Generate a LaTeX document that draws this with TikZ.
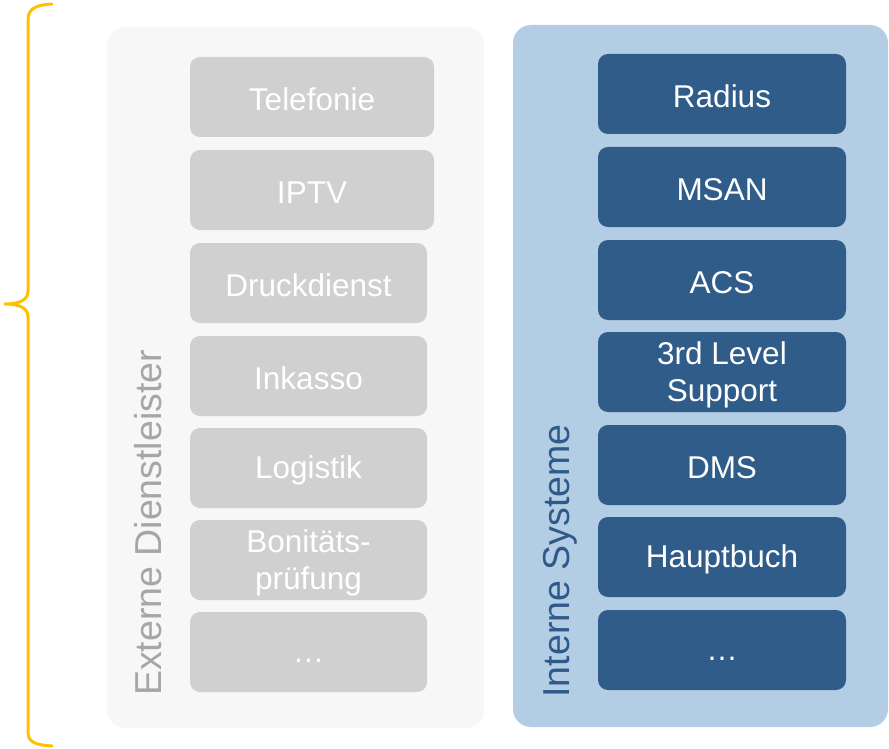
\documentclass[tikz,border=0pt]{standalone}
\usepackage{fontspec}
\setmainfont{Liberation Sans}
\definecolor{extbg}{HTML}{F7F7F7}
\definecolor{extfill}{HTML}{D0D0D0}
\definecolor{extlabel}{HTML}{A6A6A6}
\definecolor{intbg}{HTML}{B3CDE4}
\definecolor{intfill}{HTML}{305C89}
\definecolor{intlabel}{HTML}{2E5A88}
\definecolor{bracecol}{HTML}{FFC000}
\tikzset{
  boxshape/.style={rounded corners=10pt, minimum height=80pt, inner sep=0pt},
  boxlabel/.style={text=white, align=center, font=\fontsize{31.5}{37}\selectfont, yshift=-2.5pt},
  extbox/.style={boxshape, fill=extfill, minimum width=237pt},
  intbox/.style={boxshape, fill=intfill, minimum width=248pt},
  sidelabel/.style={rotate=90, anchor=base, font=\fontsize{37.5}{42}\selectfont}
}
\begin{document}
\begin{tikzpicture}[x=1pt,y=-1pt]
	\useasboundingbox (0,0) rectangle (889,749);
	\fill[extbg, rounded corners=18pt] (107,27) rectangle (484,728);
	\fill[intbg, rounded corners=18pt] (513,25) rectangle (888,727);
	% brace
	\draw[bracecol, line width=3pt, line cap=round] (52,4) .. controls (35,5) and (28,9) .. (28,20)
		-- (28,291) .. controls (28,300) and (20,304) .. (4,304)
		.. controls (20,304) and (28,308) .. (28,317)
		-- (28,732) .. controls (28,742) and (35,745) .. (52,746);
	% externe dienstleister
	\node[extbox, minimum width=244pt, label={[boxlabel]center:Telefonie}] (tel) at (312,97) {};
	\node[extbox, minimum width=244pt, label={[boxlabel]center:IPTV}] (iptv) at (312,190) {};
	\node[extbox, label={[boxlabel]center:Druckdienst}] (druck) at (308.5,283) {};
	\node[extbox, label={[boxlabel]center:Inkasso}] (inkasso) at (308.5,376) {};
	\node[extbox, label={[boxlabel]center:Logistik}] (logistik) at (308.5,468) {};
	\node[extbox, label={[boxlabel]center:{Bonitäts-\\prüfung}}] (boni) at (308.5,560) {};
	\node[extbox, label={[boxlabel]center:{\vphantom{Ag}\dots}}] (extmore) at (308.5,652) {};
	\node[sidelabel, text=extlabel] (extlbl) at (161,523) {Externe Dienstleister};
	% interne systeme
	\node[intbox, label={[boxlabel]center:Radius}] (radius) at (722,94) {};
	\node[intbox, label={[boxlabel]center:MSAN}] (msan) at (722,187) {};
	\node[intbox, label={[boxlabel]center:ACS}] (acs) at (722,280) {};
	\node[intbox, label={[boxlabel]center:{3rd Level\\Support}}] (support) at (722,372) {};
	\node[intbox, label={[boxlabel]center:DMS}] (dms) at (722,465) {};
	\node[intbox, label={[boxlabel]center:Hauptbuch}] (hauptbuch) at (722,557) {};
	\node[intbox, label={[boxlabel]center:{\vphantom{Ag}\dots}}] (intmore) at (722,650) {};
	\node[sidelabel, text=intlabel] (intlbl) at (569,561) {Interne Systeme};
\end{tikzpicture}
\end{document}
